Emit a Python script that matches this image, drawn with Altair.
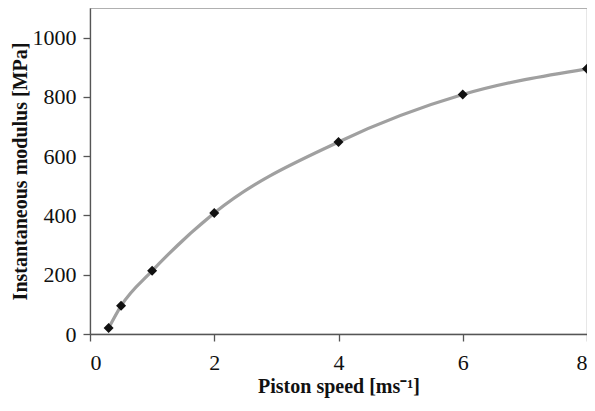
import altair as alt
import pandas as pd

speed = [0.3, 0.5, 1, 2, 4, 6, 8]
modulus = [20, 95, 213, 408, 648, 808, 895]
x_ticks = [0, 2, 4, 6, 8]
y_ticks = [0, 200, 400, 600, 800, 1000]

df = pd.DataFrame({"speed": speed, "modulus": modulus})

x = alt.X("speed:Q", scale=alt.Scale(domain=[0, 8], nice=False),
          axis=alt.Axis(title="Piston speed [ms⁻¹]", values=x_ticks,
                        titlePadding=3, labelPadding=11))
y = alt.Y("modulus:Q", scale=alt.Scale(domain=[0, 1100], nice=False),
          axis=alt.Axis(title="Instantaneous modulus [MPa]", format="d",
                        values=y_ticks, titlePadding=2, labelPadding=7))

line = alt.Chart(df).mark_line(color="#a0a0a0", strokeWidth=3.2,
                               interpolate="monotone", clip=False).encode(x=x, y=y)
pts = alt.Chart(df).mark_point(shape="diamond", filled=True, color="#111111",
                               size=100, opacity=1, clip=False).encode(x=x, y=y)

chart = (line + pts).properties(
    width=497, height=326,
    autosize=alt.AutoSizeParams(type="none"),
    padding={"left": 82, "top": 0, "right": 0, "bottom": 69},
).configure_view(
    stroke="#b0b0b0", strokeWidth=1.2
).configure_axis(
    grid=False,
    domainColor="#555555", domainWidth=1.3,
    tickColor="#555555", tickSize=7, tickWidth=1.3,
    labelFont="Liberation Serif", labelFontSize=22, labelColor="#111111",
    titleFont="Liberation Serif", titleFontSize=20, titleFontWeight="bold",
    titleColor="#111111",
)

chart.save("out.html", embed_options={"renderer": "svg", "actions": False})
